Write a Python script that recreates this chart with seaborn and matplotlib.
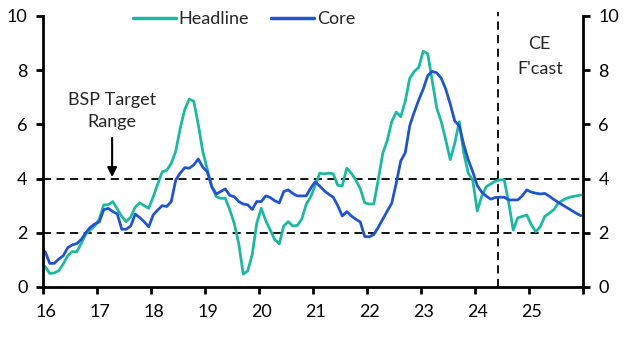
import numpy as np
import pandas as pd
import seaborn as sns
import matplotlib
matplotlib.use("Agg")
import matplotlib.pyplot as plt
from matplotlib.transforms import ScaledTranslation

# ---- data (monthly, Jan 2016 - Dec 2025, % y/y) ----
start_year = 2016
headline = [
    0.75, 0.5, 0.52, 0.6, 0.85, 1.15, 1.3, 1.3, 1.6, 1.95, 2.1, 2.25,
    2.5, 3.03, 3.03, 3.15, 2.88, 2.6, 2.41, 2.58, 2.95, 3.1, 3.0, 2.9,
    3.33, 3.8, 4.25, 4.3, 4.56, 5.0, 5.86, 6.55, 6.93, 6.85, 6.0, 5.0,
    4.35, 3.7, 3.33, 3.27, 3.27, 2.85, 2.35, 1.6, 0.47, 0.6, 1.2, 2.35,
    2.9, 2.45, 2.1, 1.75, 1.59, 2.25, 2.41, 2.25, 2.27, 2.5, 3.05, 3.33,
    3.75, 4.2, 4.17, 4.2, 4.17, 3.75, 3.73, 4.38, 4.2, 3.95, 3.63, 3.1,
    3.06, 3.06, 3.95, 4.93, 5.4, 6.1, 6.45, 6.28, 6.85, 7.7, 7.95, 8.1,
    8.7, 8.6, 7.6, 6.6, 6.1, 5.42, 4.7, 5.3, 6.1, 4.95, 4.2, 3.94,
    2.8, 3.35, 3.7, 3.8, 3.9, 3.95, 3.95, 3.1, 2.1, 2.55, 2.6, 2.66,
    2.3, 2.04, 2.22, 2.6, 2.72, 2.85, 3.09, 3.2, 3.28, 3.33, 3.36, 3.39,
]
core = [
    1.3, 0.87, 0.87, 1.03, 1.15, 1.45, 1.55, 1.6, 1.75, 2.0, 2.2, 2.32,
    2.4, 2.85, 2.9, 2.78, 2.7, 2.13, 2.13, 2.25, 2.69, 2.56, 2.4, 2.22,
    2.66, 2.84, 3.0, 2.97, 3.15, 3.95, 4.2, 4.4, 4.38, 4.5, 4.72, 4.42,
    4.25, 3.7, 3.43, 3.52, 3.62, 3.38, 3.33, 3.15, 3.06, 3.03, 2.86, 3.15,
    3.15, 3.36, 3.3, 3.18, 3.1, 3.52, 3.58, 3.45, 3.36, 3.36, 3.36, 3.65,
    3.88, 3.72, 3.55, 3.42, 3.31, 3.0, 2.62, 2.78, 2.62, 2.5, 2.4, 1.86,
    1.85, 1.93, 2.2, 2.5, 2.8, 3.09, 3.83, 4.65, 4.95, 5.95, 6.45, 6.9,
    7.3, 7.8, 7.95, 7.9, 7.7, 7.3, 6.75, 6.12, 5.95, 5.25, 4.69, 4.25,
    3.74, 3.5, 3.35, 3.24, 3.3, 3.31, 3.31, 3.21, 3.21, 3.21, 3.36, 3.58,
    3.5, 3.46, 3.43, 3.45, 3.35, 3.23, 3.12, 3.02, 2.92, 2.82, 2.72, 2.63,
]
series_names = ["Headline", "Core"]
target_range = [2, 4]
forecast_start = 2024.42
year_ticks = list(range(2016, 2027))
year_labels = ["16", "17", "18", "19", "20", "21", "22", "23", "24", "25", ""]
y_ticks = [0, 2, 4, 6, 8, 10]

n = len(headline)
dates = [start_year + (i + 0.5) / 12 for i in range(n)]
df = pd.DataFrame({
    "date": dates * 2,
    "value": headline + core,
    "series": [series_names[0]] * n + [series_names[1]] * n,
})

sns.set_theme(style="white")
plt.rcParams["font.family"] = ["Lato", "DejaVu Sans"]

fig = plt.figure(figsize=(6.25, 3.38), dpi=100)
ax = fig.add_axes([0.0688, 0.151, 0.864, 0.802])

palette = {"Headline": "#1fb8a3", "Core": "#2255cc"}
sns.lineplot(data=df, x="date", y="value", hue="series", palette=palette,
             linewidth=2.0, ax=ax, legend=True)

# reference lines
for t in target_range:
    ax.axhline(t, color="black", lw=1.3, ls=(0, (4.5, 3)), zorder=1)
ax.axvline(forecast_start, color="black", lw=1.3, ls=(0, (4.5, 3)), zorder=1,
           ymax=1.015, clip_on=False)

ax.set_xlim(2016, 2026)
ax.set_ylim(0, 10)
ax.set_xticks(year_ticks)
ax.set_xticklabels(year_labels)
ax.set_yticks(y_ticks)
ax.set_yticklabels([str(v) for v in y_ticks])
ax.set_xlabel("")
ax.set_ylabel("")

for s in ["left", "right", "bottom"]:
    ax.spines[s].set_visible(True)
    ax.spines[s].set_color("black")
    ax.spines[s].set_linewidth(2)
ax.spines["top"].set_visible(False)

ax.tick_params(axis="y", which="both", left=True, right=True, labelleft=True,
               labelright=True, direction="out", length=5, width=2,
               labelsize=13, colors="black", pad=6)
ax.tick_params(axis="x", bottom=True, direction="out", length=5, width=2,
               labelsize=13, colors="black", pad=7)
offset = ScaledTranslation(3 / 100, 0, fig.dpi_scale_trans)
for lab in ax.get_xticklabels():
    lab.set_transform(lab.get_transform() + offset)

leg = ax.legend(loc="upper center", bbox_to_anchor=(0.372, 1.045), ncol=2,
                frameon=False, fontsize=13, handlelength=2.4,
                handletextpad=0.15, columnspacing=1.2, borderaxespad=0)
for h in leg.get_lines():
    h.set_linewidth(2.5)

ax.text(2017.28, 6.5, "BSP Target\nRange", ha="center", va="center",
        fontsize=13, linespacing=1.5)
ax.annotate("", xy=(2017.28, 3.95), xytext=(2017.28, 5.6),
            arrowprops=dict(arrowstyle="-|>", color="black", lw=1.5,
                            mutation_scale=14))
ax.text(2025.2, 8.5, "CE\nF'cast", ha="center", va="center",
        fontsize=13, linespacing=1.75)

fig.savefig("out.png", dpi=100)
